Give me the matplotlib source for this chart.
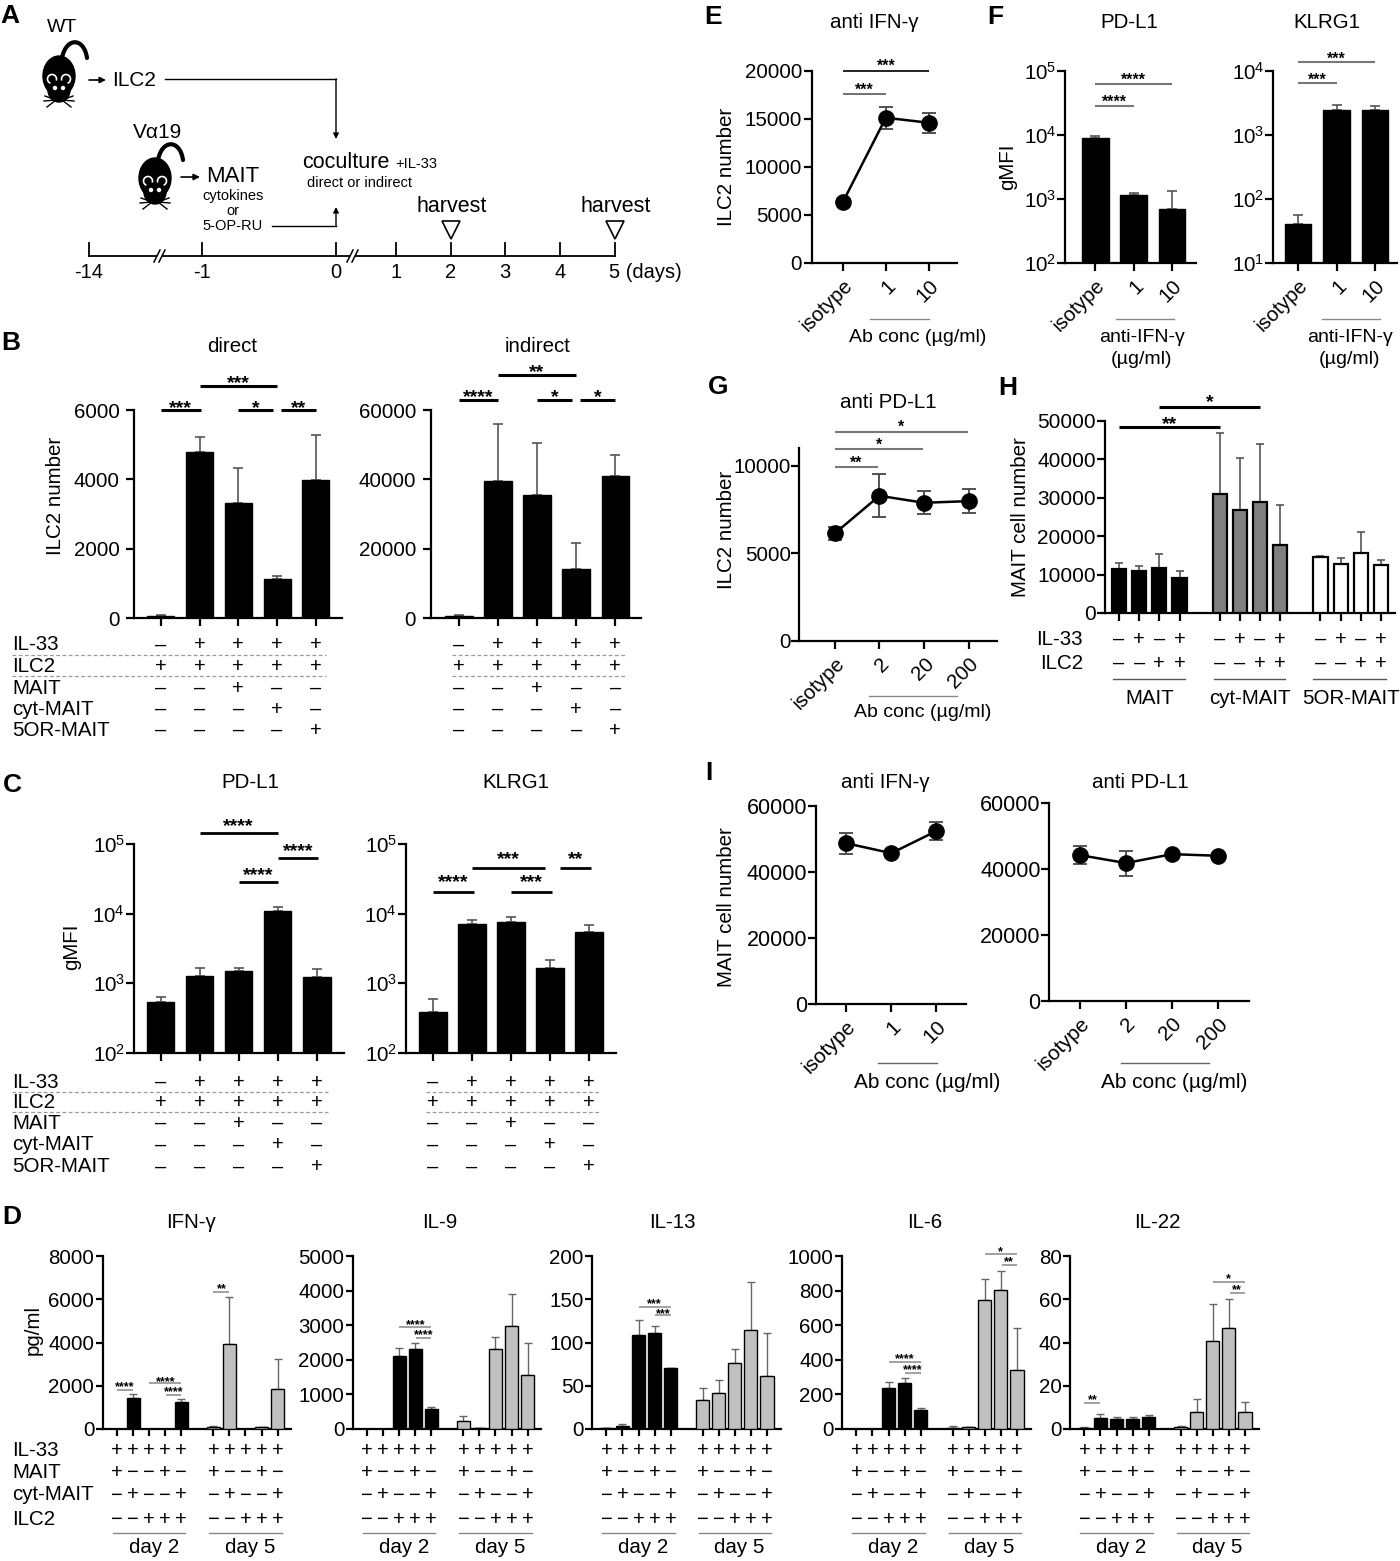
import numpy as np
import matplotlib
matplotlib.use('Agg')
import matplotlib.pyplot as plt
import matplotlib.transforms as mtrans
from matplotlib.patches import Ellipse, Circle, PathPatch, Polygon, Arc
from matplotlib.path import Path
from matplotlib.ticker import FixedLocator, NullLocator, FuncFormatter

plt.rcParams['font.family'] = ['Liberation Sans', 'DejaVu Sans']
plt.rcParams['mathtext.fontset'] = 'custom'
plt.rcParams['mathtext.rm'] = 'Liberation Sans'
plt.rcParams['mathtext.it'] = 'Liberation Sans:italic'
plt.rcParams['mathtext.bf'] = 'Liberation Sans:bold'
plt.rcParams['axes.unicode_minus'] = False

W, H = 1400, 1561
FS = 14.8

# ======================= DATA =======================
# Panel A timeline
timeline_days = ['-14', '-1', '0', '1', '2', '3', '4', '5 (days)']
timeline_px = [89, 202, 336, 396, 451, 505, 560, 615]
harvest_idx = [4, 7]

# Panel B
b_rows = ['IL-33', 'ILC2', 'MAIT', 'cyt-MAIT', '5OR-MAIT']
b_cond = [['–', '+', '+', '+', '+'],
          ['+', '+', '+', '+', '+'],
          ['–', '–', '+', '–', '–'],
          ['–', '–', '–', '+', '–'],
          ['–', '–', '–', '–', '+']]
b_direct = [48, 4790, 3330, 1120, 3985]
b_direct_up = [77, 5230, 4320, 1220, 5280]
b_indirect = [670, 39400, 35500, 14200, 41100]
b_indirect_up = [960, 55900, 50400, 21600, 46900]

# Panel C
c_pdl1 = [546, 1277, 1490, 10970, 1225]
c_pdl1_up = [630, 1650, 1650, 12500, 1590]
c_klrg1 = [385, 7060, 7550, 1650, 5500]
c_klrg1_up = [590, 8100, 9100, 2170, 6840]

# Panel D (day 2 then day 5)
d_names = ['IFN-γ', 'IL-9', 'IL-13', 'IL-6', 'IL-22']
d_pos = [0, 1, 2, 3, 4, 6, 7, 8, 9, 10]
d_vals = [
    [0, 1430, 0, 0, 1250, 100, 3930, 0, 70, 1850],
    [0, 0, 2110, 2310, 580, 230, 30, 2310, 2980, 1560],
    [0.7, 3.8, 108.5, 111.5, 70, 33.5, 41.6, 76.3, 114, 61],
    [0, 0, 237, 266, 110, 8, 10, 746, 803, 341],
    [0.5, 5, 4.8, 4.6, 5.6, 0.9, 7.9, 40.8, 46.5, 7.9],
]
d_up = [
    [0, 1620, 0, 0, 1390, 140, 6110, 0, 110, 3240],
    [0, 0, 2340, 2480, 640, 380, 40, 2660, 3900, 2490],
    [1.2, 5.8, 126, 119, 71, 47, 56.6, 93, 170, 111],
    [0, 0, 272, 295, 121, 15, 14, 867, 913, 584],
    [0.7, 7, 5.7, 5.7, 6.3, 1.6, 14, 58, 60, 12.6],
]
d_ymax = [8000, 5000, 200, 1000, 80]
d_ystep = [2000, 1000, 50, 200, 20]
d_rows = ['IL-33', 'MAIT', 'cyt-MAIT', 'ILC2']
d_cond_day = [list('+++++'), list('+−−+−'), list('−+−−+'), list('−−+++')]
d_groups = ['day 2', 'day 5']
# significance (x1, x2, stars)
d_sig = [
    [(0, 1, '****'), (2, 4, '****'), (3.05, 4, '****'), (6, 7, '**')],
    [(2, 4, '****'), (3.05, 4, '****')],
    [(2, 4, '***'), (3.05, 4, '***')],
    [(2, 4, '****'), (3.05, 4, '****'), (8, 10, '*'), (9.05, 10, '**')],
    [(0, 1, '**'), (8, 10, '*'), (9.05, 10, '**')],
]
d_sig_y = [
    [(1390, 1384.5), (1383.3, 1379.5), (1395, 1390), (1291.7, 1287.3)],
    [(1326.7, 1322.5), (1338.3, 1333.3)],
    [(1306.7, 1302), (1315.3, 1311.5)],
    [(1361.7, 1357.3), (1372.7, 1368.3), (1254, 1250), (1265, 1260)],
    [(1403.3, 1398.3), (1282.3, 1277.3), (1293.3, 1287.7)],
]

# Panel E
e_labels = ['isotype', '1', '10']
e_vals = [6365, 15130, 14610]
e_sem = [250, 1150, 1050]

# Panel F
f_labels = ['isotype', '1', '10']
f_pdl1 = [9080, 1155, 698]
f_pdl1_up = [9640, 1254, 1320]
f_klrg1 = [40, 2450, 2450]
f_klrg1_up = [57, 2900, 2800]

# Panel G
g_labels = ['isotype', '2', '20', '200']
g_vals = [6141, 8289, 7890, 7985]
g_sem = [380, 1230, 660, 690]

# Panel H
h_groups = ['MAIT', 'cyt-MAIT', '5OR-MAIT']
h_vals = [[11500, 11000, 11800, 9100],
          [30900, 26800, 29000, 17700],
          [14500, 12800, 15500, 12600]]
h_up = [[13000, 12300, 15400, 10900],
        [46800, 40400, 43900, 28100],
        [14900, 14200, 21200, 13800]]
h_colors = ['#000000', '#808080', '#ffffff']
h_rows = ['IL-33', 'ILC2']
h_cond = [['–', '+', '–', '+'], ['–', '–', '+', '+']]

# Panel I
i1_labels = ['isotype', '1', '10']
i1_vals = [48700, 45700, 52400]
i1_sem = [3200, 600, 2800]
i2_labels = ['isotype', '2', '20', '200']
i2_vals = [44200, 41800, 44500, 44000]
i2_sem = [2800, 3800, 500, 400]

# ======================= FIGURE =======================
fig = plt.figure(figsize=(W / 100, H / 100), dpi=100)


def fy(ypx):
    return 1 - ypx / H


def fx(xpx):
    return xpx / W


ov = fig.add_axes([0, 0, 1, 1])
ov.set_xlim(0, W)
ov.set_ylim(H, 0)
ov.axis('off')


def ptext(x, y, s, fs=FS, **kw):
    kw.setdefault('ha', 'center')
    kw.setdefault('va', 'center')
    fig.text(fx(x), fy(y), s, fontsize=fs, **kw)


def bt(ax):
    return mtrans.blended_transform_factory(ax.transData, fig.transFigure)


intfmt = FuncFormatter(lambda v, p: '%d' % round(v))


def make_ax(x0, x1, ytop, ybase, xlim, ylim, log=False, yticks=None, fs=FS,
            tick_len=5.5, pad=1.0):
    ax = fig.add_axes([fx(x0), fy(ybase), (x1 - x0) / W, (ybase - ytop) / H])
    ax.patch.set_alpha(0)
    for s in ('top', 'right'):
        ax.spines[s].set_visible(False)
    for s in ('left', 'bottom'):
        ax.spines[s].set_linewidth(1.6)
    if log:
        ax.set_yscale('log')
    ax.set_xlim(*xlim)
    ax.set_ylim(*ylim)
    if yticks is not None:
        ax.yaxis.set_major_locator(FixedLocator(yticks))
    if not log:
        ax.yaxis.set_major_formatter(intfmt)
    ax.yaxis.set_minor_locator(NullLocator())
    ax.tick_params(axis='both', which='major', length=tick_len, width=1.6,
                   labelsize=fs, pad=pad, direction='out')
    return ax


def sig(ax, x1, x2, yline, ystar, s, fs, lw, color='k'):
    tr = bt(ax)
    ax.plot([x1, x2], [fy(yline)] * 2, color=color, lw=lw, transform=tr,
            clip_on=False, solid_capstyle='butt')
    base = ystar + 0.42 * fs * 100 / 72
    ax.text((x1 + x2) / 2, fy(base), s, transform=tr, ha='center', va='baseline',
            fontsize=fs, fontweight='bold')


def bars(ax, x, vals, up, fc, ec='k', width=0.7, lw=1.0, ecol='#555555',
         capsize=3.5, elw=1.2, bottom=0):
    x = np.asarray(x, float)
    vals = np.asarray(vals, float)
    up = np.asarray(up, float)
    ax.bar(x, vals - bottom, bottom=bottom, width=width, color=fc, edgecolor=ec,
           linewidth=lw, zorder=3)
    m = (up > vals) & (vals > 0)
    ax.errorbar(x[m], vals[m], yerr=[np.zeros(m.sum()), (up - vals)[m]], fmt='none',
                ecolor=ecol, elinewidth=elw, capsize=capsize, capthick=elw, zorder=2)
    ax.set_xticks(x)
    ax.set_xticklabels([])


def table(ax, x, rows, ys, fs=14.5):
    tr = bt(ax)
    for row, y in zip(rows, ys):
        for xi, s in zip(x, row):
            ax.text(xi, fy(y), s, transform=tr, ha='center', va='center', fontsize=fs)


def hline(ax, x1, x2, ypx, color='#777777', lw=1.0, ls='-'):
    ax.plot([x1, x2], [fy(ypx)] * 2, transform=bt(ax), color=color, lw=lw, ls=ls,
            clip_on=False)


def axtext(ax, x, ypx, s, fs=FS, **kw):
    kw.setdefault('ha', 'center')
    kw.setdefault('va', 'center')
    ax.text(x, fy(ypx), s, transform=bt(ax), fontsize=fs, **kw)


def points(ax, x, vals, sem, ms=11):
    ax.errorbar(x, vals, yerr=sem, fmt='-o', color='k', ms=ms, lw=1.8,
                ecolor='#444444', elinewidth=1.3, capsize=5, capthick=1.3, zorder=3,
                clip_on=False)


def rot_labels(ax, x, labels, fs=FS):
    ax.set_xticks(x)
    ax.set_xticklabels(labels, rotation=45, ha='right', rotation_mode='anchor',
                       fontsize=fs)
    ax.tick_params(axis='x', pad=4)


# ----------------------- Panel letters -----------------------
for L, (x, y) in {'A': (10, 16), 'B': (11, 343), 'C': (12, 785), 'D': (12, 1217),
                  'E': (713, 17), 'F': (995, 17), 'G': (718, 387), 'H': (1008, 388),
                  'I': (709, 773)}.items():
    ptext(x, y, L, fs=19, fontweight='bold')

# ======================= Panel A (schematic) =======================


def mouse(cx, top):
    # pear-shaped body, seen from above, head pointing down
    ov.add_patch(Ellipse((cx, top + 19), 32, 40, color='k', zorder=2))
    ov.add_patch(Ellipse((cx, top + 33), 22, 24, color='k', zorder=2))
    ov.add_patch(Arc((cx - 7, top + 22), 9, 9, theta1=110, theta2=20, color='white',
                     lw=1.2, zorder=3))
    ov.add_patch(Arc((cx + 7, top + 22), 9, 9, theta1=160, theta2=70, color='white',
                     lw=1.2, zorder=3))
    for dx in (-4, 4):
        ov.add_patch(Circle((cx + dx, top + 31), 1.5, color='white', zorder=3))
    for sgn in (-1, 1):
        for ex, ey in [(14, 39), (15, 44), (12, 50)]:
            ov.plot([cx + sgn * 3, cx + sgn * ex], [top + 43, top + ey], color='k', lw=1.0)
    verts = [(cx + 3, top + 1), (cx + 7, top - 20), (cx + 25, top - 20), (cx + 28, top + 1)]
    ov.add_patch(PathPatch(Path(verts, [Path.MOVETO, Path.CURVE4, Path.CURVE4, Path.CURVE4]),
                           fc='none', ec='k', lw=3, capstyle='round'))


mouse(59, 57)
mouse(155, 159)
ptext(62, 28, 'WT', fs=14)
ptext(158, 133, 'Vα19', fs=15)
arrow_kw = dict(arrowstyle='-|>', color='k', lw=1.2, mutation_scale=9, shrinkA=0, shrinkB=0)
ov.annotate('', xy=(106, 80), xytext=(89, 80), arrowprops=arrow_kw)
ov.annotate('', xy=(200, 177), xytext=(181, 177), arrowprops=arrow_kw)
ptext(134, 80, 'ILC2', fs=15)
ptext(233, 177, 'MAIT', fs=16)
ptext(233, 196, 'cytokines', fs=10.5)
ptext(233, 211, 'or', fs=10.5)
ptext(233, 226, '5-OP-RU', fs=10.5)
ov.plot([165, 336], [79, 79], color='k', lw=1.0)
ov.annotate('', xy=(336, 139), xytext=(336, 79),
            arrowprops=dict(arrowstyle='-|>', color='k', lw=1.0, mutation_scale=8,
                            shrinkA=0, shrinkB=0))
ov.plot([272, 336], [226, 226], color='k', lw=1.0)
ov.annotate('', xy=(336, 207), xytext=(336, 226),
            arrowprops=dict(arrowstyle='-|>', color='k', lw=1.0, mutation_scale=8,
                            shrinkA=0, shrinkB=0))
ptext(345.5, 162, 'coculture', fs=15.5)
ptext(395, 164, '+IL-33', fs=10.5, ha='left')
ptext(360, 183, 'direct or indirect', fs=10.5)

tl_y = 256
ov.plot([timeline_px[0], timeline_px[-1]], [tl_y, tl_y], color='k', lw=1.3)
for xp, lab in zip(timeline_px, timeline_days):
    ov.plot([xp, xp], [tl_y, tl_y - 13], color='k', lw=1.3)
    if lab.startswith('5'):
        ptext(xp - 6, 273, lab, fs=14.5, ha='left')
    else:
        ptext(xp, 273, lab, fs=14.5)
for bx in (161, 354):
    ov.add_patch(Polygon([(bx - 7, tl_y + 6), (bx - 1, tl_y - 6), (bx + 4, tl_y - 6),
                          (bx - 2, tl_y + 6)], closed=True, fc='white', ec='none', zorder=3))
    for off in (-7, -2):
        ov.plot([bx + off, bx + off + 6], [tl_y + 6, tl_y - 6], color='k', lw=1.1, zorder=4)
for hi in harvest_idx:
    xp = timeline_px[hi]
    ov.plot([xp], [230], marker='v', ms=13, mfc='white', mec='k', mew=1.2, ls='none')
    ptext(xp + 1, 206, 'harvest', fs=15.5)

# ======================= Panel B =======================
xb = np.arange(5)
axBd = make_ax(134, 341.5, 410, 618, (-0.69, 4.66), (0, 6000),
               yticks=[0, 2000, 4000, 6000], pad=5)
bars(axBd, xb, b_direct, b_direct_up, 'k', width=0.7)
axBi = make_ax(430.8, 640.6, 410, 618, (-0.72, 4.65), (0, 60000),
               yticks=[0, 20000, 40000, 60000], pad=5)
bars(axBi, xb, b_indirect, b_indirect_up, 'k', width=0.7)
ptext(232, 347, 'direct')
ptext(538, 347, 'indirect')
ptext(55.8, 496, 'ILC2 number', rotation=90)
SB = 14
sig(axBd, 0, 1.03, 410, 404.5, '***', SB, 2.2)
sig(axBd, 1, 3, 386, 380, '***', SB, 2.2)
sig(axBd, 2, 2.9, 410, 404.5, '*', SB, 2.2)
sig(axBd, 3.1, 4, 410, 404.5, '**', SB, 2.2)
sig(axBi, 0, 1, 400, 393.5, '****', SB, 2.2)
sig(axBi, 1, 3, 375, 369, '**', SB, 2.2)
sig(axBi, 2, 2.9, 400, 393.5, '*', SB, 2.2)
sig(axBi, 3.1, 4, 400, 393.5, '*', SB, 2.2)
b_row_y = [645, 666.7, 688, 709, 730]
table(axBd, xb, b_cond, b_row_y)
table(axBi, xb, b_cond, b_row_y)
for lab, y in zip(b_rows, b_row_y):
    ptext(12.5, y, lab, ha='left')
for y in (655, 675.7):
    ov.plot([12, 326], [y, y], ls=(0, (3, 2)), color='#999999', lw=0.9)
    ov.plot([452, 625], [y, y], ls=(0, (3, 2)), color='#999999', lw=0.9)

# ======================= Panel C =======================
axCp = make_ax(134, 343.8, 844, 1053, (-0.68, 4.69), (1e2, 1e5), log=True,
               yticks=[1e2, 1e3, 1e4, 1e5], pad=1)
bars(axCp, xb, c_pdl1, c_pdl1_up, 'k', width=0.7, bottom=1e2)
axCk = make_ax(406, 616, 844, 1053, (-0.69, 4.69), (1e2, 1e5), log=True,
               yticks=[1e2, 1e3, 1e4, 1e5], pad=1)
bars(axCk, xb, c_klrg1, c_klrg1_up, 'k', width=0.7, bottom=1e2)
ptext(250, 783, 'PD-L1')
ptext(516, 783, 'KLRG1')
ptext(71.4, 947, 'gMFI', rotation=90)
sig(axCp, 1, 3, 833.3, 822.7, '****', SB, 2.0)
sig(axCp, 2, 3, 882, 871.7, '****', SB, 2.0)
sig(axCp, 3, 4.03, 858, 847.5, '****', SB, 2.0)
sig(axCk, 0, 1.05, 892.3, 879.3, '****', SB, 2.0)
sig(axCk, 1, 2.88, 868, 856, '***', SB, 2.0)
sig(axCk, 2, 3.05, 892.3, 879.3, '***', SB, 2.0)
sig(axCk, 3.25, 4.05, 868, 856, '**', SB, 2.0)
c_row_y = [1082, 1103, 1123.5, 1145, 1167]
table(axCp, xb, b_cond, c_row_y)
table(axCk, xb, b_cond, c_row_y)
for lab, y in zip(b_rows, c_row_y):
    ptext(12.5, y, lab, ha='left')
for y in (1092, 1112):
    ov.plot([12, 328], [y, y], ls=(0, (3, 2)), color='#999999', lw=0.9)
    ov.plot([426, 599], [y, y], ls=(0, (3, 2)), color='#999999', lw=0.9)

# ======================= Panel D =======================
d_axis_x = [102.7, 352.7, 592, 842, 1070]
d_title_x = [191, 440, 672, 925, 1157]
d_row_y = [1450, 1472.7, 1495, 1519.3]
d_colors = ['#000000'] * 5 + ['#c0c0c0'] * 5
for k in range(5):
    x0 = d_axis_x[k]
    ax = make_ax(x0, x0 + 188.5, 1256, 1429, (-0.9, 10.85), (0, d_ymax[k]),
                 yticks=np.arange(0, d_ymax[k] + 1, d_ystep[k]), tick_len=5, pad=1)
    bars(ax, d_pos, d_vals[k], d_up[k], d_colors, width=0.83, lw=1.0,
         ecol='#666666', capsize=2.8, elw=1.0)
    ptext(d_title_x[k], 1222, d_names[k])
    for (x1, x2, st), (yl, ys) in zip(d_sig[k], d_sig_y[k]):
        sig(ax, x1, x2, yl, ys, st, 9, 1.1, color='#888888')
    cond = [r + r for r in d_cond_day]
    table(ax, d_pos, cond, d_row_y, fs=14.5)
    hline(ax, -0.25, 4.25, 1532.7, color='#888888', lw=1.0)
    hline(ax, 5.75, 10.25, 1532.7, color='#888888', lw=1.0)
    axtext(ax, 2.3, 1547.3, d_groups[0])
    axtext(ax, 8.3, 1547.3, d_groups[1])
for lab, y in zip(d_rows, d_row_y):
    ptext(12.5, y, lab, ha='left')
ptext(33.5, 1330, 'pg/ml', rotation=90)

# ======================= Panel E =======================
xe = np.arange(3)
axE = make_ax(811.6, 956.7, 71, 263, (-0.73, 2.65), (0, 20000),
              yticks=[0, 5000, 10000, 15000, 20000], pad=1.5)
points(axE, xe, e_vals, e_sem)
rot_labels(axE, xe, e_labels)
ptext(874, 22, 'anti IFN-γ')
ptext(727, 167, 'ILC2 number', rotation=90)
sig(axE, 0, 1, 94, 88, '***', 11.5, 1.3, color='#666666')
sig(axE, 0, 2, 71, 64.5, '***', 11.5, 1.3, color='#111111')
hline(axE, 0.62, 2.0, 319, color='#888888')
axtext(axE, 1.73, 338, 'Ab conc (µg/ml)', fs=14)

# ======================= Panel F =======================
axFp = make_ax(1065, 1195.5, 71, 263, (-0.78, 2.61), (1e2, 1e5), log=True,
               yticks=[1e2, 1e3, 1e4, 1e5], pad=0.5)
bars(axFp, xe, f_pdl1, f_pdl1_up, 'k', width=0.7, bottom=1e2)
rot_labels(axFp, xe, f_labels)
axFk = make_ax(1273, 1397, 71, 263, (-0.65, 2.57), (1e1, 1e4), log=True,
               yticks=[1e1, 1e2, 1e3, 1e4], pad=0.5)
bars(axFk, xe, f_klrg1, f_klrg1_up, 'k', width=0.68, bottom=1e1)
rot_labels(axFk, xe, f_labels)
ptext(1129, 22, 'PD-L1')
ptext(1327, 22, 'KLRG1')
ptext(1008, 167, 'gMFI', rotation=90)
sig(axFp, 0, 1, 106, 100, '****', 11.5, 1.5, color='#777777')
sig(axFp, 0, 2, 84.3, 78.3, '****', 11.5, 1.5, color='#777777')
sig(axFk, 0, 1, 83, 78.3, '***', 11.5, 1.5, color='#777777')
sig(axFk, 0, 2, 62, 56.7, '***', 11.5, 1.5, color='#777777')
hline(axFp, 0.55, 2.05, 319, color='#888888')
axtext(axFp, 1.22, 338, 'anti-IFN-γ', fs=14)
axtext(axFp, 1.22, 360, '(µg/ml)', fs=14)
hline(axFk, 0.62, 2.13, 319, color='#888888')
axtext(axFk, 1.34, 338, 'anti-IFN-γ', fs=14)
axtext(axFk, 1.34, 360, '(µg/ml)', fs=14)

# ======================= Panel G =======================
xg = np.arange(4)
axG = make_ax(799, 997, 448.3, 641, (-0.8, 3.63), (0, 11000),
              yticks=[0, 5000, 10000], pad=0.5)
points(axG, xg, g_vals, g_sem)
rot_labels(axG, xg, g_labels)
ptext(888.4, 402, 'anti PD-L1')
ptext(726, 530, 'ILC2 number', rotation=90)
sig(axG, 0, 0.97, 467, 460.7, '**', 11.5, 1.5, color='#777777')
sig(axG, 0, 1.97, 449.3, 442.7, '*', 11.5, 1.5, color='#777777')
sig(axG, 0, 2.97, 432.3, 425, '*', 11.5, 1.5, color='#777777')
hline(axG, 0.76, 2.73, 696, color='#888888')
axtext(axG, 1.97, 713, 'Ab conc (µg/ml)', fs=14)

# ======================= Panel H =======================
h_pos = [[0, 1, 2, 3], [5, 6, 7, 8], [10, 11, 12, 13]]
axH = make_ax(1105, 1395, 421, 613, (-0.7, 13.7), (0, 50000),
              yticks=[0, 10000, 20000, 30000, 40000, 50000], fs=15, pad=1)
for g in range(3):
    bars(axH, h_pos[g], h_vals[g], h_up[g], h_colors[g], width=0.7, lw=1.6,
         ecol='#555555', capsize=3, elw=1.2)
axH.set_xticks(sum(h_pos, []))
axH.set_xticklabels([])
ptext(1021, 517, 'MAIT cell number', rotation=90)
sig(axH, 0, 5, 427.3, 420.5, '**', 14, 2.2)
sig(axH, 2, 7, 406.7, 398.5, '*', 14, 2.2)
h_row_y = [639.3, 663.3]
for g in range(3):
    table(axH, h_pos[g], h_cond, h_row_y)
for lab, y in zip(h_rows, h_row_y):
    ptext(1083, y, lab, ha='right')
for (a, b), g, name in zip([(-0.3, 3.25), (4.7, 8.25), (9.65, 13.25)], range(3), h_groups):
    hline(axH, a, b, 679.3, color='#555555', lw=1.0)
    axtext(axH, np.mean(h_pos[g]), 698.3, name)

# ======================= Panel I =======================
axI1 = make_ax(815.8, 966, 806, 1004, (-0.68, 2.66), (0, 60000),
               yticks=[0, 20000, 40000, 60000], fs=15.5, pad=0.5)
points(axI1, xe, i1_vals, i1_sem)
rot_labels(axI1, xe, i1_labels, fs=15)
axI2 = make_ax(1049, 1248.6, 803, 1001, (-0.67, 3.66), (0, 60000),
               yticks=[0, 20000, 40000, 60000], fs=15.5, pad=0.5)
points(axI2, xg, i2_vals, i2_sem)
rot_labels(axI2, xg, i2_labels, fs=15)
ptext(885, 783, 'anti IFN-γ')
ptext(1140.6, 783, 'anti PD-L1')
ptext(727, 907, 'MAIT cell number', rotation=90)
hline(axI1, 0.7, 2.02, 1063, color='#666666')
axtext(axI1, 1.79, 1082, 'Ab conc (µg/ml)', fs=15)
hline(axI2, 0.89, 2.8, 1063, color='#666666')
axtext(axI2, 2.04, 1082, 'Ab conc (µg/ml)', fs=15)

fig.savefig('out.png', dpi=100)
